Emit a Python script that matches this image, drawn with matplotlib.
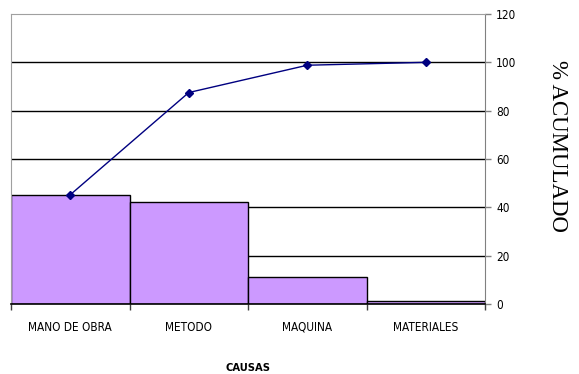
import matplotlib
matplotlib.use("Agg")
import matplotlib.pyplot as plt
from matplotlib import font_manager

causas = ["MANO DE OBRA", "METODO", "MAQUINA", "MATERIALES"]
porcentaje = [45.2, 42.3, 11.3, 1.2]
acumulado = [45.2, 87.5, 98.8, 100.0]
yticks = [0, 20, 40, 60, 80, 100, 120]

# Pick a narrow sans face if one is installed
names = {f.name: f for f in font_manager.fontManager.ttflist}
cond = [f for f in font_manager.fontManager.ttflist
        if f.name == "DejaVu Sans" and f.stretch == "condensed" and f.weight in (400, "normal")]
if "Liberation Sans Narrow" in names:
    narrow = dict(family="Liberation Sans Narrow")
elif cond:
    narrow = dict(family="DejaVu Sans", fontstretch="condensed")
else:
    narrow = dict(family="Liberation Sans")

fig = plt.figure(figsize=(5.79, 3.74), dpi=100)
ax = fig.add_axes([11 / 579, 1 - 304 / 374, (485 - 11) / 579, (304 - 14) / 374])

x = [i + 0.5 for i in range(len(causas))]
ax.bar(x, porcentaje, width=1.0, color="#CC99FF", edgecolor="black", linewidth=1.0, zorder=2)
ax.plot(x, acumulado, color="#000080", linewidth=1.0, marker="D", markersize=4,
        markerfacecolor="#000080", markeredgecolor="#000080", zorder=3)

ax.set_xlim(0, len(causas))
ax.set_ylim(0, 120)

for v in yticks[1:-1]:
    ax.axhline(v, color="black", linewidth=1.0, zorder=1)

ax.spines["top"].set_color("#a0a0a0")
ax.spines["left"].set_color("#a0a0a0")
ax.spines["right"].set_color("#808080")
ax.spines["bottom"].set_color("black")
ax.spines["bottom"].set_linewidth(1.2)
ax.spines["bottom"].set_zorder(4)

ax.yaxis.tick_right()
ax.set_yticks(yticks)
ax.set_yticklabels([str(v) for v in yticks], fontsize=8.5, **narrow)
ax.tick_params(axis="y", direction="out", length=4, width=1, colors="#808080", labelcolor="black", pad=4)

ax.set_xticks(range(len(causas) + 1))
ax.set_xticklabels([])
ax.set_xticks(x, minor=True)
ax.set_xticklabels(causas, minor=True, fontsize=8.5, **narrow)
ax.tick_params(axis="x", which="major", direction="out", length=4, width=1, colors="#404040")
ax.tick_params(axis="x", which="minor", length=0, pad=12)

ax.set_xlabel("CAUSAS", fontsize=8, fontweight="bold", labelpad=21, **narrow)

fig.text(557 / 579, 1 - 146 / 374, "% ACUMULADO", fontsize=16.5, family="Liberation Serif",
         rotation=-90, ha="center", va="center")

fig.savefig("out.png", dpi=100)
